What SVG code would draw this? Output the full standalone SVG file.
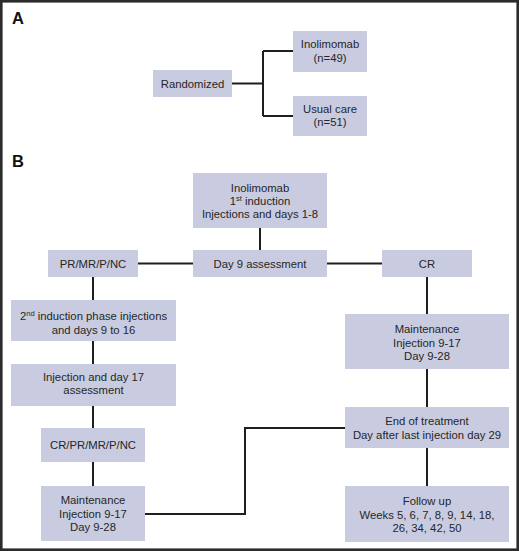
<svg xmlns="http://www.w3.org/2000/svg" width="520" height="551" viewBox="0 0 520 551">
<style>
.frame{fill:#ffffff;stroke:#2b2b2b;stroke-width:2.6}
.box{fill:#c9cce0}
.t{font-family:"Liberation Sans",Arial,sans-serif;font-size:11.3px;fill:#262626;text-anchor:middle}
.sup{font-size:7.5px}
.lbl{font-family:"Liberation Sans",Arial,sans-serif;font-size:16.5px;font-weight:bold;fill:#111111}
.c{fill:none;stroke:#1e1e1e;stroke-width:2}
</style>
<rect class="frame" x="1.3" y="1.3" width="516.4" height="548.4"/>
<text class="lbl" x="12" y="24">A</text>
<text class="lbl" x="12" y="167">B</text>
<g id="connectors">
<path class="c" d="M232 83.5H263M263 51V116M263 51H293M263 116H293"/>
<path class="c" d="M260 228V250M138 263.5H193M327 263.5H382"/>
<path class="c" d="M93 277V300M93 341V364M93 406V428M93 462V486"/>
<path class="c" d="M145 514H245V428H345"/>
<path class="c" d="M427 277V314M427 369V407M427 448V486"/>
</g>
<g id="randomized">
<rect class="box" x="153" y="70" width="79" height="27"/>
<text class="t" x="192.5" y="87.5">Randomized</text>
</g>
<g id="inolimomab-arm">
<rect class="box" x="293" y="31" width="74" height="41"/>
<text class="t" x="330" y="48">Inolimomab</text>
<text class="t" x="330" y="61.5">(n=49)</text>
</g>
<g id="usual-care-arm">
<rect class="box" x="293" y="96" width="74" height="40"/>
<text class="t" x="330" y="112.5">Usual care</text>
<text class="t" x="330" y="126">(n=51)</text>
</g>
<g id="first-induction">
<rect class="box" x="193" y="173" width="134" height="55"/>
<text class="t" x="260" y="191.5">Inolimomab</text>
<text class="t" x="260" y="204.5">1<tspan class="sup" dy="-4">st</tspan><tspan dy="4"> induction</tspan></text>
<text class="t" x="260" y="217.5">Injections and days 1-8</text>
</g>
<g id="day9">
<rect class="box" x="193" y="250" width="134" height="27"/>
<text class="t" x="260" y="267.5">Day 9 assessment</text>
</g>
<g id="pr-mr-p-nc">
<rect class="box" x="48" y="250" width="90" height="27"/>
<text class="t" x="93" y="267.5">PR/MR/P/NC</text>
</g>
<g id="cr">
<rect class="box" x="382" y="250" width="90" height="27"/>
<text class="t" x="427" y="267.5">CR</text>
</g>
<g id="second-induction">
<rect class="box" x="11" y="300" width="165" height="41"/>
<text class="t" x="93.5" y="319.5">2<tspan class="sup" dy="-4">nd</tspan><tspan dy="4"> induction phase injections</tspan></text>
<text class="t" x="93.5" y="333.5">and days 9 to 16</text>
</g>
<g id="day17">
<rect class="box" x="11" y="364" width="165" height="42"/>
<text class="t" x="93.5" y="380.5">Injection and day 17</text>
<text class="t" x="93.5" y="394">assessment</text>
</g>
<g id="cr-pr-mr-p-nc">
<rect class="box" x="41" y="428" width="104" height="34"/>
<text class="t" x="93" y="449">CR/PR/MR/P/NC</text>
</g>
<g id="maintenance-left">
<rect class="box" x="41" y="486" width="104" height="55"/>
<text class="t" x="93" y="504">Maintenance</text>
<text class="t" x="93" y="517.5">Injection 9-17</text>
<text class="t" x="93" y="531">Day 9-28</text>
</g>
<g id="maintenance-right">
<rect class="box" x="345" y="314" width="164" height="55"/>
<text class="t" x="427" y="333">Maintenance</text>
<text class="t" x="427" y="346.5">Injection 9-17</text>
<text class="t" x="427" y="360">Day 9-28</text>
</g>
<g id="end-of-treatment">
<rect class="box" x="345" y="407" width="164" height="41"/>
<text class="t" x="427" y="424.5">End of treatment</text>
<text class="t" x="427" y="438.5">Day after last injection day 29</text>
</g>
<g id="follow-up">
<rect class="box" x="345" y="486" width="164" height="56"/>
<text class="t" x="427" y="505">Follow up</text>
<text class="t" x="427" y="518.5">Weeks 5, 6, 7, 8, 9, 14, 18,</text>
<text class="t" x="427" y="532">26, 34, 42, 50</text>
</g>
</svg>
